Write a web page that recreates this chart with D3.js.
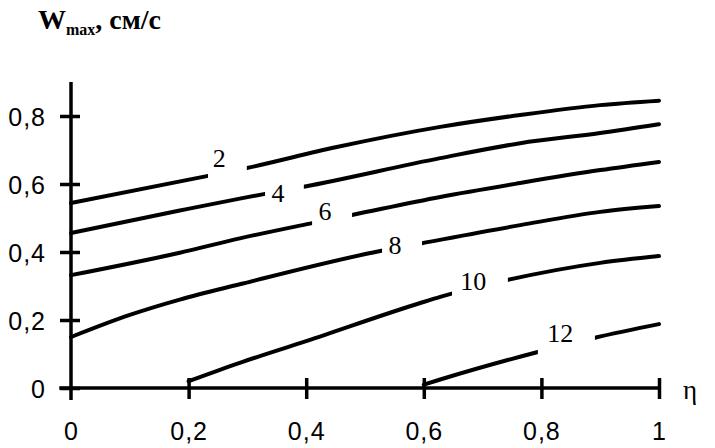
<!DOCTYPE html>
<html>
<head>
<meta charset="utf-8">
<style>
    body { margin: 0; background: #fff; }
    svg { display: block; }
    .tick text { font-family: Arial, 'Liberation Sans', sans-serif; font-size: 25px; fill: #000; letter-spacing: 1px; }
    .tick line { stroke: #000; stroke-width: 3.5px; }
    .domain { display: none; }
    .curve { fill: none; stroke: #000; stroke-width: 4px; stroke-linecap: round; stroke-linejoin: round; }
    .serif { font-family: "Liberation Serif", "Times New Roman", Times, serif; fill: #000; }
    .clabel { font-size: 26px; }
</style>
</head>
<body>
<svg width="715" height="448"></svg>
<script src="https://d3js.org/d3.v7.min.js"></script>
<script>
// values: [eta, Wmax]
let curveNames = ["2", "4", "6", "8", "10", "12"];

let curve2 = [[0, 0.544], [0.233, 0.624], [0.299, 0.647], [0.45, 0.708], [0.628, 0.768], [0.764, 0.803], [0.9, 0.832], [1, 0.845]];
let curve4 = [[0, 0.456], [0.185, 0.522], [0.287, 0.557], [0.33, 0.571], [0.396, 0.592], [0.628, 0.676], [0.764, 0.72], [0.9, 0.75], [1, 0.776]];
let curve6 = [[0, 0.332], [0.185, 0.398], [0.287, 0.44], [0.41, 0.485], [0.478, 0.509], [0.628, 0.562], [0.764, 0.603], [0.9, 0.641], [1, 0.665]];
let curve8 = [[0, 0.15], [0.1, 0.215], [0.185, 0.26], [0.287, 0.305], [0.526, 0.403], [0.597, 0.426], [0.764, 0.479], [0.9, 0.518], [1, 0.535]];
let curve10 = [[0.2, 0.02], [0.287, 0.074], [0.4, 0.138], [0.594, 0.25], [0.628, 0.268], [0.743, 0.318], [0.9, 0.368], [1, 0.388]];
let curve12 = [[0.6, 0.01], [0.628, 0.025], [0.794, 0.106], [0.891, 0.148], [1, 0.188]];

// where each line is broken for its label (eta from..to)
let gapStart = [0.233, 0.33, 0.41, 0.529, 0.648, 0.794];
let gapEnd = [0.299, 0.396, 0.478, 0.597, 0.743, 0.891];

// label centres [eta, Wmax]
let labelEta = [0.252, 0.352, 0.432, 0.551, 0.684, 0.832];
let labelW = [0.676, 0.574, 0.521, 0.421, 0.315, 0.162];

let xTicks = [0, 0.2, 0.4, 0.6, 0.8, 1];
let xTickLabels = ["0", "0,2", "0,4", "0,6", "0,8", "1"];
let yTicks = [0, 0.2, 0.4, 0.6, 0.8];
let yTickLabels = ["0", "0,2", "0,4", "0,6", "0,8"];

let curves = [curve2, curve4, curve6, curve8, curve10, curve12];

let svg = d3.select("svg");

let x = d3.scaleLinear().domain([0, 1]).range([71, 659]);
let y = d3.scaleLinear().domain([0, 0.8]).range([388, 116]);

// axis lines
svg.append("line")
    .attr("x1", x(0)).attr("x2", x(0))
    .attr("y1", y(0.9)).attr("y2", y(-0.035))
    .style("stroke", "#000").style("stroke-width", 3.5);

svg.append("line")
    .attr("x1", x(-0.02)).attr("x2", x(1))
    .attr("y1", y(0)).attr("y2", y(0))
    .style("stroke", "#000").style("stroke-width", 3.5);

let yAxis = d3.axisLeft(y)
    .tickValues(yTicks)
    .tickFormat((d, i) => yTickLabels[i])
    .tickSize(11);

let yg = svg.append("g")
    .attr("transform", `translate(${x(0)},0)`)
    .call(yAxis);
yg.selectAll(".tick line").attr("x1", 9).attr("x2", -11);
yg.selectAll(".tick text").attr("x", -25).attr("dy", "0.36em");

let xAxis = d3.axisBottom(x)
    .tickValues(xTicks)
    .tickFormat((d, i) => xTickLabels[i])
    .tickSize(11);

let xg = svg.append("g")
    .attr("transform", `translate(0,${y(0)})`)
    .call(xAxis);
xg.selectAll(".tick line").attr("y1", -10).attr("y2", 11);
xg.selectAll(".tick text").attr("y", 52).attr("dy", 0);
xg.selectAll(".tick").filter(d => d === 0).select("line").remove();

let line = d3.line()
    .x(d => x(d[0]))
    .y(d => y(d[1]))
    .curve(d3.curveMonotoneX);

let defs = svg.append("defs");

curves.forEach(function (pts, i) {
    let mask = defs.append("mask").attr("id", "gap" + i)
        .attr("maskUnits", "userSpaceOnUse")
        .attr("x", 0).attr("y", 0).attr("width", 715).attr("height", 448);
    mask.append("rect").attr("x", 0).attr("y", 0).attr("width", 715).attr("height", 448).style("fill", "#fff");
    mask.append("rect")
        .attr("x", x(gapStart[i]))
        .attr("y", 0)
        .attr("width", x(gapEnd[i]) - x(gapStart[i]))
        .attr("height", 448)
        .style("fill", "#000");

    svg.append("path")
        .attr("class", "curve")
        .attr("d", line(pts))
        .attr("mask", "url(#gap" + i + ")");

    svg.append("text")
        .attr("class", "serif clabel")
        .attr("x", x(labelEta[i]))
        .attr("y", y(labelW[i]))
        .attr("dy", "0.35em")
        .attr("text-anchor", "middle")
        .text(curveNames[i]);
});

// axis names
svg.append("text")
    .attr("class", "serif")
    .attr("x", 683)
    .attr("y", 399)
    .style("font-size", "27px")
    .text("η");

let title = svg.append("text")
    .attr("class", "serif")
    .attr("x", 38)
    .attr("y", 29)
    .style("font-weight", "bold")
    .style("font-size", "28px");
title.append("tspan").text("W");
title.append("tspan").attr("dy", 6).style("font-size", "16px").text("max");
title.append("tspan").attr("dy", -6).text(", см/с");
</script>
</body>
</html>
